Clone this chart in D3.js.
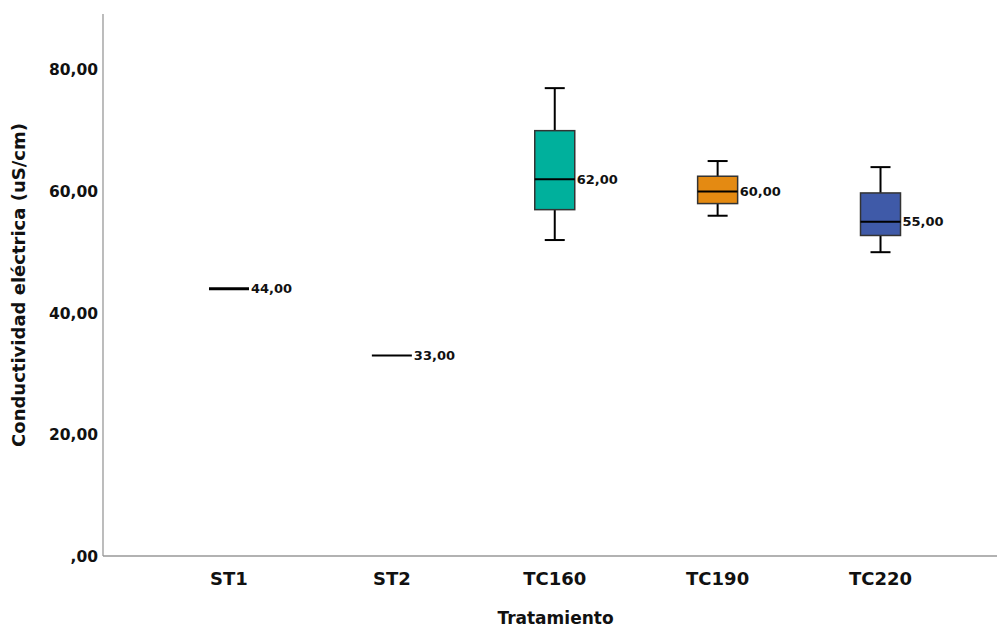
<!DOCTYPE html>
<html><head><meta charset="utf-8">
<script src="https://cdn.jsdelivr.net/npm/d3@7/dist/d3.min.js"></script>
<style>body{margin:0;background:#fff}svg{display:block}text{font-family:"DejaVu Sans",sans-serif;font-weight:bold;fill:#111}</style>
</head><body><svg id="c" width="998" height="628"></svg>
<script>
const categories = ["ST1","ST2","TC160","TC190","TC220"];
const minVals    = [44, 33, 52, 56, 50];
const q1Vals     = [44, 33, 57, 58, 52.75];
const medianVals = [44, 33, 62, 60, 55];
const q3Vals     = [44, 33, 70, 62.5, 59.75];
const maxVals    = [44, 33, 77, 65, 64];
const medianLabels = ["44,00","33,00","62,00","60,00","55,00"];
const boxColors  = ["#ffffff","#ffffff","#00B09C","#E48A12","#3F5AA8"];
const yTicks = [0,20,40,60,80];
const yTickLabels = [",00","20,00","40,00","60,00","80,00"];

const svg = d3.select("#c");
const mLeft = 103, mRight = 997, mTop = 14, mBottom = 556;
const y = d3.scaleLinear().domain([0, 89.2]).range([mBottom, mTop]);
const x = d3.scalePoint().domain(categories).range([mLeft, 1006.5]).padding(0.7735);

// axes lines
svg.append("line").attr("x1",mLeft).attr("x2",mLeft).attr("y1",mTop).attr("y2",mBottom).attr("stroke","#999").attr("stroke-width",1.3);
svg.append("line").attr("x1",mLeft).attr("x2",mRight).attr("y1",mBottom).attr("y2",mBottom).attr("stroke","#999").attr("stroke-width",1.3);

// y tick labels
svg.selectAll(".yt").data(yTicks).enter().append("text")
  .attr("x", 98).attr("y", d => y(d)).attr("dy","0.36em").attr("text-anchor","end")
  .style("font-size","15.5px").text((d,i)=>yTickLabels[i]);

// x tick labels
svg.selectAll(".xt").data(categories).enter().append("text")
  .attr("x", d => x(d)).attr("y", 585).attr("text-anchor","middle")
  .style("font-size","18px").text(d=>d);

// axis titles
svg.append("text").attr("x", 555.5).attr("y", 624).attr("text-anchor","middle")
  .style("font-size","17px").text("Tratamiento");
svg.append("text").attr("transform","translate(25,285) rotate(-90)").attr("text-anchor","middle")
  .style("font-size","18px").text("Conductividad eléctrica (uS/cm)");

const boxW = 40, capW = 20;
categories.forEach((c,i) => {
  const cx = x(c);
  const g = svg.append("g");
  if (maxVals[i] === minVals[i]) {
    g.append("line").attr("x1", cx-boxW/2).attr("x2", cx+boxW/2).attr("y1", y(medianVals[i])).attr("y2", y(medianVals[i]))
      .attr("stroke","#000").attr("stroke-width", i===0?3:2);
    g.append("text").attr("x", cx+boxW/2+2).attr("y", y(medianVals[i])).attr("dy","0.36em")
      .style("font-size","13px").text(medianLabels[i]);
    return;
  }
  g.append("line").attr("x1",cx).attr("x2",cx).attr("y1",y(maxVals[i])).attr("y2",y(q3Vals[i])).attr("stroke","#000").attr("stroke-width",2);
  g.append("line").attr("x1",cx).attr("x2",cx).attr("y1",y(q1Vals[i])).attr("y2",y(minVals[i])).attr("stroke","#000").attr("stroke-width",2);
  g.append("line").attr("x1",cx-capW/2).attr("x2",cx+capW/2).attr("y1",y(maxVals[i])).attr("y2",y(maxVals[i])).attr("stroke","#000").attr("stroke-width",2);
  g.append("line").attr("x1",cx-capW/2).attr("x2",cx+capW/2).attr("y1",y(minVals[i])).attr("y2",y(minVals[i])).attr("stroke","#000").attr("stroke-width",2);
  g.append("rect").attr("x",cx-boxW/2).attr("width",boxW).attr("y",y(q3Vals[i])).attr("height",y(q1Vals[i])-y(q3Vals[i]))
    .attr("fill",boxColors[i]).attr("stroke","#333").attr("stroke-width",1.5);
  g.append("line").attr("x1",cx-boxW/2).attr("x2",cx+boxW/2).attr("y1",y(medianVals[i])).attr("y2",y(medianVals[i])).attr("stroke","#000").attr("stroke-width",2);
  g.append("text").attr("x", cx+boxW/2+2).attr("y", y(medianVals[i])).attr("dy","0.36em")
    .style("font-size","13px").text(medianLabels[i]);
});
</script></body></html>
